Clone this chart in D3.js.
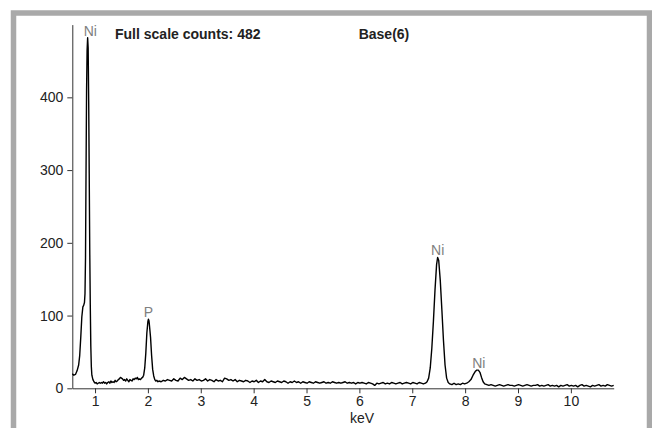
<!DOCTYPE html>
<meta charset="utf-8">
<script src="https://d3js.org/d3.v7.min.js"></script>
<style>
  body { margin: 0; background: #fff; }
  text { font-family: "Liberation Sans", Arial, sans-serif; }
</style>
<div id="chart"></div>
<script>

// EDS spectrum: [keV, counts]
var spectrum = [
  [0.57,20],[0.60,18],[0.63,19],[0.66,24],[0.69,32],[0.71,45],[0.73,70],[0.75,98],
  [0.77,112],[0.785,114],[0.80,118],[0.81,130],[0.82,180],[0.83,300],[0.84,410],
  [0.85,465],[0.86,482],[0.87,468],[0.88,395],[0.89,295],[0.90,190],[0.91,115],
  [0.92,58],[0.93,30],[0.94,18],[0.96,12],[0.98,9],[1.00,7],[1.02,8],[1.04,6],
  [1.06,7],[1.08,8],[1.10,7],[1.12,8],[1.14,7],[1.16,9],[1.18,7],[1.20,8],[1.22,6],
  [1.24,8],[1.26,9],[1.28,7],[1.30,10],[1.32,8],[1.34,9],[1.36,8],[1.38,11],[1.40,9],
  [1.42,10],[1.44,12],[1.46,13],[1.48,15],[1.50,14],[1.52,13],[1.54,11],[1.56,12],
  [1.58,10],[1.60,13],[1.62,11],[1.64,9],[1.66,12],[1.68,11],[1.70,10],[1.72,13],
  [1.74,12],[1.76,14],[1.78,13],[1.80,15],[1.82,12],[1.84,13],[1.86,12],[1.88,14],
  [1.90,15],[1.92,18],[1.94,28],[1.96,48],[1.98,76],[2.00,92],[2.01,95],[2.02,93],
  [2.03,86],[2.05,70],[2.07,45],[2.09,26],[2.11,17],[2.13,12],[2.15,10],[2.17,11],
  [2.19,9],[2.21,10],[2.25,9],[2.29,11],[2.33,10],[2.37,12],[2.41,11],[2.45,10],
  [2.49,13],[2.53,11],[2.57,10],[2.61,14],[2.65,12],[2.69,15],[2.73,13],[2.77,11],
  [2.81,12],[2.85,10],[2.89,13],[2.93,11],[2.97,12],[3.01,10],[3.05,11],[3.09,13],
  [3.13,10],[3.17,12],[3.21,11],[3.25,9],[3.29,12],[3.33,10],[3.37,11],[3.41,9],
  [3.45,14],[3.49,13],[3.53,11],[3.57,12],[3.61,10],[3.65,12],[3.69,9],[3.73,11],
  [3.77,10],[3.81,9],[3.85,11],[3.89,10],[3.93,8],[3.97,10],[4.01,9],[4.05,11],
  [4.09,8],[4.13,10],[4.17,9],[4.21,12],[4.25,9],[4.29,8],[4.33,10],[4.37,9],
  [4.41,8],[4.45,10],[4.49,9],[4.53,8],[4.57,10],[4.61,9],[4.65,7],[4.69,9],
  [4.73,8],[4.77,10],[4.81,8],[4.85,9],[4.89,7],[4.93,9],[4.97,8],[5.01,7],
  [5.05,9],[5.09,8],[5.13,7],[5.17,9],[5.21,8],[5.25,7],[5.29,8],[5.33,9],
  [5.37,7],[5.41,8],[5.45,7],[5.49,9],[5.53,8],[5.57,7],[5.61,8],[5.65,7],
  [5.69,8],[5.73,9],[5.77,7],[5.81,8],[5.85,7],[5.89,8],[5.93,6],[5.97,8],
  [6.01,7],[6.05,8],[6.09,7],[6.13,6],[6.17,8],[6.21,7],[6.25,6],[6.29,4],
  [6.33,7],[6.37,6],[6.41,7],[6.45,8],[6.49,6],[6.53,7],[6.57,6],[6.61,8],
  [6.65,7],[6.69,6],[6.73,7],[6.77,8],[6.81,6],[6.85,7],[6.89,8],[6.93,7],
  [6.97,6],[7.01,8],[7.05,7],[7.09,6],[7.13,8],[7.17,7],[7.21,6],[7.25,7],
  [7.28,9],[7.31,14],[7.34,28],[7.37,55],[7.40,92],[7.43,135],[7.46,170],[7.48,180],
  [7.50,176],[7.53,148],[7.56,108],[7.59,66],[7.62,32],[7.65,14],[7.68,8],[7.71,6],
  [7.75,5],[7.79,7],[7.83,5],[7.87,6],[7.91,5],[7.95,7],[7.99,6],[8.03,7],
  [8.07,9],[8.11,12],[8.15,18],[8.19,23],[8.22,25],[8.25,25],[8.28,22],[8.31,15],
  [8.34,9],[8.37,6],[8.41,5],[8.45,4],[8.49,5],[8.53,4],[8.57,3],[8.61,4],
  [8.65,5],[8.69,4],[8.73,3],[8.77,4],[8.81,5],[8.85,4],[8.89,4],[8.93,3],
  [8.97,4],[9.01,5],[9.05,4],[9.09,3],[9.13,4],[9.17,5],[9.21,4],[9.25,3],
  [9.29,4],[9.33,4],[9.37,5],[9.41,3],[9.45,4],[9.49,3],[9.53,4],[9.57,5],
  [9.61,3],[9.65,4],[9.69,3],[9.73,4],[9.77,2],[9.81,4],[9.85,3],[9.89,4],
  [9.93,5],[9.97,3],[10.01,4],[10.05,3],[10.09,4],[10.13,2],[10.17,4],[10.21,5],
  [10.25,3],[10.29,4],[10.33,3],[10.37,2],[10.41,4],[10.45,3],[10.49,4],[10.53,5],
  [10.57,3],[10.61,4],[10.65,3],[10.69,5],[10.73,4],[10.77,3],[10.81,4]
];

// peak labels
var peakNames  = ["Ni", "P", "Ni", "Ni"];
var peakKeV    = [0.91, 2.01, 7.48, 8.26];
var peakCounts = [482, 95, 180, 25];

var xTicks = [1, 2, 3, 4, 5, 6, 7, 8, 9, 10];
var yTicks = [0, 100, 200, 300, 400];
var xDomain = [0.57, 10.81];
var yDomain = [0, 500];

var fullScale = "Full scale counts: 482";
var sampleName = "Base(6)";

var W = 652, H = 428;
var svg = d3.select("#chart").append("svg")
  .attr("width", W)
  .attr("height", H);

// marco gris
svg.append("rect")
  .attr("x", 13.5).attr("y", 13)
  .attr("width", 636).attr("height", 440)
  .attr("fill", "#fff")
  .attr("stroke", "#a9a9a9")
  .attr("stroke-width", 5.5);

var x = d3.scaleLinear().domain(xDomain).range([72.3, 613.7]);
var y = d3.scaleLinear().domain(yDomain).range([388.3, 24.6]);

// ejes
var gx = svg.append("g")
  .attr("transform", "translate(0," + y(0) + ")")
  .call(d3.axisBottom(x).tickValues(xTicks).tickSize(5).tickPadding(3).tickSizeOuter(0));
var gy = svg.append("g")
  .attr("transform", "translate(" + x(xDomain[0]) + ",0)")
  .call(d3.axisLeft(y).tickValues(yTicks).tickSize(5).tickPadding(4).tickSizeOuter(0));

[gx, gy].forEach(function(g) {
  g.select(".domain").attr("stroke", "#333");
  g.selectAll(".tick line").attr("stroke", "#333");
  g.selectAll(".tick text")
    .attr("fill", "#222")
    .style("font-size", "14px")
    .style("font-family", "'Liberation Sans', Arial, sans-serif");
});

svg.append("text")
  .attr("x", 362).attr("y", 423)
  .attr("text-anchor", "middle")
  .attr("fill", "#222")
  .style("font-size", "14px")
  .text("keV");

// espectro
var line = d3.line()
  .x(function(d) { return x(d[0]); })
  .y(function(d) { return y(d[1]); });

svg.append("path")
  .datum(spectrum)
  .attr("d", line)
  .attr("fill", "none")
  .attr("stroke", "#000")
  .attr("stroke-width", 1.4)
  .attr("stroke-linejoin", "round");

// etiquetas de picos
svg.selectAll(".peak")
  .data(peakNames)
  .enter().append("text")
  .attr("class", "peak")
  .attr("x", function(d, i) { return x(peakKeV[i]); })
  .attr("y", function(d, i) { return y(peakCounts[i]) - 2; })
  .attr("text-anchor", "middle")
  .attr("fill", "#808080")
  .style("font-size", "14px")
  .text(function(d) { return d; });

// titulos
svg.append("text")
  .attr("x", 115).attr("y", 38.5)
  .attr("fill", "#222")
  .style("font-size", "14px")
  .style("font-weight", "bold")
  .text(fullScale);

svg.append("text")
  .attr("x", 358.7).attr("y", 38.5)
  .attr("fill", "#222")
  .style("font-size", "14px")
  .style("font-weight", "bold")
  .text(sampleName);

</script>
